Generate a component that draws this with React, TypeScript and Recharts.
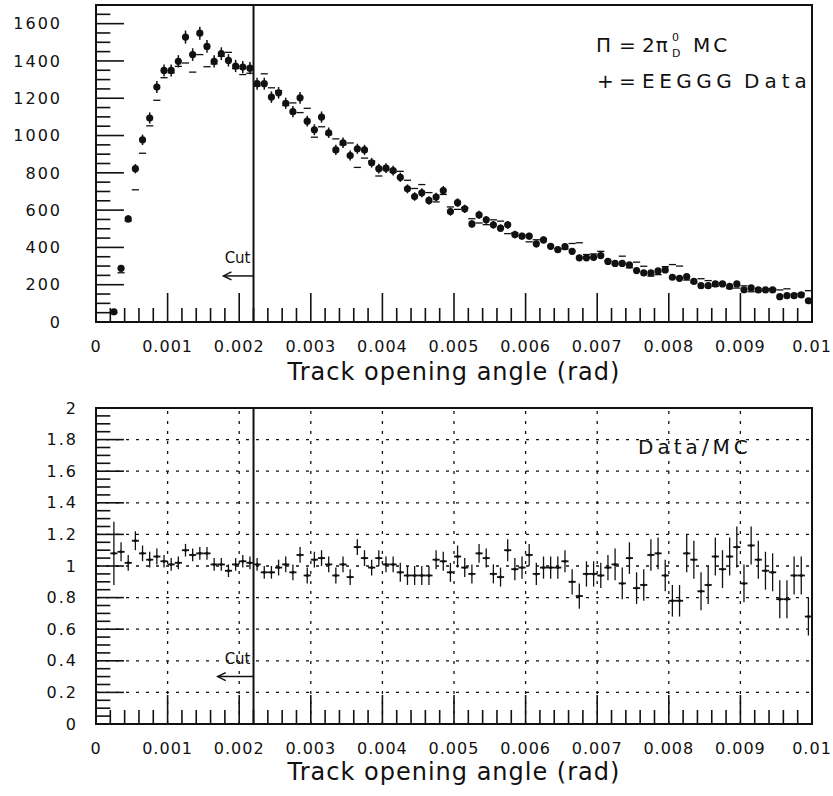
import {
  ComposedChart,
  ErrorBar,
  ReferenceArea,
  ReferenceLine,
  Scatter,
  XAxis,
  YAxis,
} from "recharts";

const FONT = '"DejaVu Sans", Verdana, sans-serif';
const INK = "#111";

// histogram binning in rad; bins 0 and 1 are empty
const BIN_WIDTH = 0.0001;
const FIRST_BIN = 2;
const CUT = 0.0022;

// EEGGG data, entries per bin (bins 2..99)
const DATA_COUNTS = [
  55, 288, 553, 822, 977, 1094, 1260, 1349, 1349, 1398,
  1528, 1434, 1549, 1478, 1398, 1439, 1403, 1373, 1367, 1361,
  1278, 1278, 1206, 1229, 1173, 1128, 1202, 1077, 1031, 1099,
  1015, 923, 961, 893, 929, 923, 854, 822, 825, 812,
  776, 714, 673, 693, 652, 670, 705, 592, 640, 607,
  526, 574, 548, 521, 503, 521, 469, 460, 460, 419,
  440, 406, 388, 404, 379, 344, 344, 347, 356, 325,
  314, 314, 306, 276, 263, 263, 274, 279, 240, 234,
  243, 218, 195, 195, 204, 204, 191, 204, 173, 183,
  172, 172, 172, 136, 141, 141, 145, 114,
];
const DATA_ERRS = [
  8, 15, 20, 25, 28, 30, 32, 32, 32, 33,
  35, 34, 35, 34, 33, 34, 33, 33, 33, 33,
  32, 32, 31, 31, 30, 30, 31, 29, 29, 30,
  28, 27, 28, 27, 27, 27, 26, 26, 26, 26,
  25, 24, 23, 24, 23, 23, 24, 22, 23, 22,
  21, 22, 21, 21, 20, 21, 20, 19, 19, 19,
  19, 18, 18, 18, 18, 17, 17, 17, 17, 16,
  16, 16, 16, 15, 15, 15, 15, 15, 14, 14,
  14, 14, 13, 13, 13, 13, 13, 13, 12, 12,
  12, 12, 12, 11, 11, 11, 11, 10,
];
// 2pi0 Monte Carlo, entries per bin (bins 2..99)
const MC_COUNTS = [
  50, 264, 542, 709, 905, 1052, 1189, 1310, 1336, 1371,
  1389, 1340, 1434, 1369, 1384, 1425, 1446, 1359, 1327, 1334,
  1265, 1331, 1256, 1241, 1161, 1175, 1123, 1146, 991, 1047,
  1005, 982, 951, 960, 829, 879, 863, 783, 817, 804,
  808, 760, 716, 737, 694, 644, 684, 617, 604, 613,
  554, 531, 522, 548, 541, 474, 479, 465, 430, 441,
  444, 410, 392, 392, 421, 425, 362, 365, 379, 328,
  311, 353, 291, 321, 299, 246, 254, 297, 308, 300,
  225, 210, 232, 222, 192, 208, 180, 182, 194, 162,
  165, 177, 179, 172, 178, 150, 154, 168,
];
// Data/MC ratio (bins 2..99)
const RATIO = [
  1.08, 1.09, 1.02, 1.16, 1.08, 1.04, 1.06, 1.03, 1.01, 1.02,
  1.1, 1.07, 1.08, 1.08, 1.01, 1.01, 0.97, 1.01, 1.03, 1.02,
  1.01, 0.96, 0.96, 0.99, 1.01, 0.96, 1.07, 0.94, 1.04, 1.05,
  1.01, 0.94, 1.01, 0.93, 1.12, 1.05, 0.99, 1.05, 1.01, 1.01,
  0.96, 0.94, 0.94, 0.94, 0.94, 1.04, 1.03, 0.96, 1.06, 0.99,
  0.95, 1.08, 1.05, 0.95, 0.93, 1.1, 0.98, 0.99, 1.07, 0.95,
  0.99, 0.99, 0.99, 1.03, 0.9, 0.81, 0.95, 0.95, 0.94, 0.99,
  1.01, 0.89, 1.05, 0.86, 0.88, 1.07, 1.08, 0.94, 0.78, 0.78,
  1.08, 1.04, 0.84, 0.88, 1.06, 0.98, 1.06, 1.12, 0.89, 1.13,
  1.04, 0.97, 0.96, 0.79, 0.79, 0.94, 0.94, 0.68,
];
const RATIO_ERRS = [
  0.2, 0.06, 0.05, 0.06, 0.05, 0.05, 0.05, 0.04, 0.04, 0.04,
  0.04, 0.04, 0.04, 0.04, 0.04, 0.04, 0.04, 0.04, 0.04, 0.04,
  0.04, 0.04, 0.04, 0.05, 0.05, 0.05, 0.05, 0.05, 0.05, 0.05,
  0.05, 0.05, 0.05, 0.05, 0.05, 0.05, 0.05, 0.05, 0.05, 0.05,
  0.06, 0.06, 0.06, 0.06, 0.06, 0.06, 0.06, 0.06, 0.07, 0.06,
  0.06, 0.06, 0.06, 0.06, 0.06, 0.07, 0.07, 0.07, 0.07, 0.07,
  0.07, 0.07, 0.07, 0.07, 0.08, 0.08, 0.08, 0.08, 0.08, 0.08,
  0.1, 0.1, 0.1, 0.1, 0.1, 0.1, 0.1, 0.1, 0.1, 0.1,
  0.12, 0.12, 0.12, 0.12, 0.12, 0.12, 0.12, 0.13, 0.12, 0.12,
  0.12, 0.12, 0.12, 0.12, 0.12, 0.12, 0.12, 0.12,
];

const X_LABELS = ["0", "0.001", "0.002", "0.003", "0.004", "0.005", "0.006", "0.007", "0.008", "0.009", "0.01"];
const TOP_Y_LABELS = ["0", "200", "400", "600", "800", "1000", "1200", "1400", "1600"];
const BOTTOM_Y_LABELS = ["0", "0.2", "0.4", "0.6", "0.8", "1", "1.2", "1.4", "1.6", "1.8", "2"];
const X_TITLE = "Track opening angle (rad)";

const X_MINOR = 0.0002;
const X_TICKS = Array.from({ length: 51 }, (_, k) => +(k * X_MINOR).toFixed(4));
const TOP_Y_MAJOR = TOP_Y_LABELS.map((_, k) => k * 200);
const TOP_Y_MINOR = Array.from({ length: 35 }, (_, k) => k * 50);
const BOTTOM_Y_MAJOR = BOTTOM_Y_LABELS.map((_, k) => +(k * 0.2).toFixed(1));
const BOTTOM_Y_MINOR = Array.from({ length: 41 }, (_, k) => +(k * 0.05).toFixed(2));
const GRID_X = [0.001, 0.002, 0.003, 0.004, 0.005, 0.006, 0.007, 0.008, 0.009];
const GRID_Y = [0.2, 0.4, 0.6, 0.8, 1, 1.2, 1.4, 1.6, 1.8];

// inward tick mark lengths on the y axes, in rad along x
const Y_TICK_LONG = 0.00039;
const Y_TICK_SHORT = 0.0002;

const centers = DATA_COUNTS.map((_, k) => +((FIRST_BIN + k + 0.5) * BIN_WIDTH).toFixed(5));
const dataRows = DATA_COUNTS.map((n, k) => ({ x: centers[k], y: n, err: DATA_ERRS[k] }));
const mcRows = MC_COUNTS.map((n, k) => ({ x: centers[k], y: n, half: BIN_WIDTH / 2 }));
const ratioRows = RATIO.map((r, k) => ({ x: centers[k], y: r, err: RATIO_ERRS[k], half: BIN_WIDTH / 2 }));

const labelText = { fontFamily: FONT, fontSize: 16, fill: INK, letterSpacing: 1 };

// eslint-disable-next-line @typescript-eslint/no-explicit-any
function XTick({ x, y, payload }: any) {
  const k = Math.round(payload.value / X_MINOR);
  const major = k % 5 === 0;
  return (
    <g>
      <line x1={x} x2={x} y1={y} y2={y - (major ? 29 : 14)} stroke={INK} strokeWidth={1.6} />
      {major && (
        <text x={x} y={y + 30} textAnchor="middle" {...labelText}>
          {X_LABELS[k / 5]}
        </text>
      )}
    </g>
  );
}

// "Cut" arrow pointing away from the cut line
// eslint-disable-next-line @typescript-eslint/no-explicit-any
function CutArrow(props: any) {
  const { x1, x2, y1 } = props;
  const left = Math.min(x1, x2);
  const right = Math.max(x1, x2);
  return (
    <g>
      <line x1={left} x2={right} y1={y1} y2={y1} stroke={INK} strokeWidth={1.5} />
      <polyline
        points={`${left + 8},${y1 - 4} ${left},${y1} ${left + 8},${y1 + 4}`}
        fill="none"
        stroke={INK}
        strokeWidth={1.5}
      />
      <text x={right - 3} y={y1 - 13} textAnchor="end" fontFamily={FONT} fontSize={15} fill={INK}>
        Cut
      </text>
    </g>
  );
}

// eslint-disable-next-line @typescript-eslint/no-explicit-any
const Dot = (p: any) => <circle cx={p.cx} cy={p.cy} r={3.6} fill={INK} />;
// eslint-disable-next-line @typescript-eslint/no-explicit-any
const SmallDot = (p: any) => <circle cx={p.cx} cy={p.cy} r={1.5} fill={INK} />;
const NoDot = () => <g />;

const xAxisProps = {
  dataKey: "x",
  type: "number" as const,
  domain: [0, 0.01],
  ticks: X_TICKS,
  interval: 0 as const,
  allowDataOverflow: true,
  axisLine: false,
  tickLine: false,
  tickSize: 0,
  tickMargin: 0,
  height: 58,
  tick: <XTick />,
};

const yAxisProps = {
  type: "number" as const,
  interval: 0 as const,
  allowDataOverflow: true,
  axisLine: false,
  tickLine: false,
  tickSize: 0,
  width: 60,
  tick: { ...labelText, letterSpacing: 2 },
};

const titleStyle = { fontFamily: FONT, fontSize: 24, fill: INK, letterSpacing: 1 };

function yTickMarks(values: number[], isMajor: (v: number) => boolean) {
  return values.map((v) => (
    <ReferenceLine
      key={`yt${v}`}
      segment={[
        { x: 0, y: v },
        { x: isMajor(v) ? Y_TICK_LONG : Y_TICK_SHORT, y: v },
      ]}
      stroke={INK}
      strokeWidth={1.6}
    />
  ));
}

function Tok({ left, top, size = 20, spacing = 4, children }: { left: number; top: number; size?: number; spacing?: number; children: React.ReactNode }) {
  return (
    <div
      style={{
        position: "absolute",
        left,
        top,
        fontFamily: FONT,
        fontSize: size,
        lineHeight: 1,
        letterSpacing: spacing,
        color: INK,
        whiteSpace: "nowrap",
      }}
    >
      {children}
    </div>
  );
}

export default function App() {
  return (
    <div style={{ position: "absolute", left: 0, top: 0, width: 833, height: 796, background: "#fff" }}>
      <ComposedChart width={833} height={390} margin={{ top: 5, right: 21, bottom: 10, left: 36 }}>
        <XAxis
          {...xAxisProps}
          label={{ value: X_TITLE, position: "insideBottom", offset: 0, style: titleStyle }}
        />
        <YAxis
          {...yAxisProps}
          domain={[0, 1700]}
          ticks={TOP_Y_MAJOR}
          tickMargin={34}
          tickFormatter={(v: number) => TOP_Y_LABELS[Math.round(v / 200)]}
        />
        {yTickMarks(TOP_Y_MINOR, (v) => v % 200 === 0)}
        <ReferenceArea x1={0} x2={0.01} y1={0} y2={1700} fill="none" stroke={INK} strokeWidth={2} ifOverflow="visible" />
        <ReferenceLine x={CUT} stroke={INK} strokeWidth={2} ifOverflow="visible" />
        <ReferenceLine
          segment={[
            { x: 0.00178, y: 247 },
            { x: CUT, y: 247 },
          ]}
          shape={CutArrow}
        />
        <Scatter data={mcRows} dataKey="y" shape={NoDot} isAnimationActive={false}>
          <ErrorBar dataKey="half" direction="x" width={0} stroke={INK} strokeWidth={1.3} />
        </Scatter>
        <Scatter data={dataRows} dataKey="y" shape={Dot} isAnimationActive={false}>
          <ErrorBar dataKey="err" direction="y" width={0} stroke={INK} strokeWidth={1.5} />
        </Scatter>
      </ComposedChart>

      <ComposedChart width={833} height={406} margin={{ top: 18, right: 21, bottom: 14, left: 36 }}>
        <XAxis
          {...xAxisProps}
          label={{ value: X_TITLE, position: "insideBottom", offset: 2, style: titleStyle }}
        />
        <YAxis
          {...yAxisProps}
          domain={[0, 2]}
          ticks={BOTTOM_Y_MAJOR}
          tickMargin={18}
          tickFormatter={(v: number) => BOTTOM_Y_LABELS[Math.round(v / 0.2)]}
        />
        {GRID_Y.map((v) => (
          <ReferenceLine key={`gy${v}`} y={v} stroke={INK} strokeWidth={1.3} strokeDasharray="3 7" />
        ))}
        {GRID_X.map((v) => (
          <ReferenceLine key={`gx${v}`} x={v} stroke={INK} strokeWidth={1.3} strokeDasharray="3 7" />
        ))}
        {yTickMarks(BOTTOM_Y_MINOR, (v) => Math.round(v * 100) % 20 === 0)}
        <ReferenceArea x1={0} x2={0.01} y1={0} y2={2} fill="none" stroke={INK} strokeWidth={2} ifOverflow="visible" />
        <ReferenceLine x={CUT} stroke={INK} strokeWidth={2} ifOverflow="visible" />
        <ReferenceLine
          segment={[
            { x: 0.0017, y: 0.3 },
            { x: CUT, y: 0.3 },
          ]}
          shape={CutArrow}
        />
        <Scatter data={ratioRows} dataKey="y" shape={SmallDot} isAnimationActive={false}>
          <ErrorBar dataKey="err" direction="y" width={0} stroke={INK} strokeWidth={1.3} />
          <ErrorBar dataKey="half" direction="x" width={0} stroke={INK} strokeWidth={1.8} />
        </Scatter>
      </ComposedChart>

      {/* legend of the upper plot */}
      <Tok left={596} top={35}>Π</Tok>
      <Tok left={619} top={35}>=</Tok>
      <Tok left={642} top={35} spacing={1}>2π</Tok>
      <Tok left={672} top={32} size={11} spacing={0}>0</Tok>
      <Tok left={672} top={48} size={11} spacing={0}>D</Tok>
      <Tok left={693} top={35} spacing={3}>MC</Tok>
      <Tok left={597} top={71}>+</Tok>
      <Tok left={619} top={71}>=</Tok>
      <Tok left={642} top={71} spacing={4.5}>EEGGG</Tok>
      <Tok left={744} top={71} spacing={5}>Data</Tok>
      <Tok left={638} top={437} spacing={4}>Data/MC</Tok>
    </div>
  );
}
